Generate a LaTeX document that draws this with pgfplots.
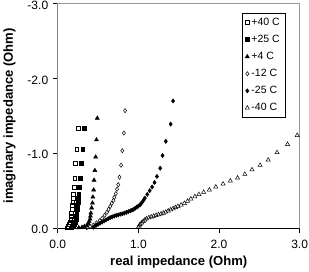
\documentclass[border=0pt]{standalone}
\usepackage{pgfplots}
\pgfplotsset{compat=1.18}
\usepackage{fontspec}
\setmainfont{Liberation Sans}
\begin{document}
\begin{tikzpicture}
\begin{axis}[
  scale only axis, width=241pt, height=223.5pt,
  xmin=0, xmax=3, ymin=-3, ymax=0, y dir=reverse,
  xtick={0,1,2,3}, xticklabels={0.0,1.0,2.0,3.0},
  ytick={-3,-2,-1,0}, yticklabels={-3.0,-2.0,-1.0,0.0},
  tick align=outside, major tick length=5pt,
  xtick pos=left, ytick pos=left,
  every tick/.style={black, line width=0.6pt},
  axis line style={draw=gray!80, line width=0.6pt},
  tick label style={font=\fontsize{12}{14}\selectfont},
  xticklabel style={yshift=-3pt, inner xsep=1pt},
  yticklabel style={yshift=-1.5pt, inner ysep=1pt, xshift=-1pt},
  xlabel={\bfseries real impedance (Ohm)},
  ylabel={\bfseries imaginary impedance (Ohm)},
  label style={font=\fontsize{13}{15}\selectfont},
  xlabel style={yshift=-1pt},
  ylabel style={yshift=5pt},
  legend style={at={(axis description cs:0.94,0.96)}, anchor=north east, draw=black, line width=0.6pt,
    font=\fontsize{10.5}{12}\selectfont, row sep=4.2pt, inner sep=3pt, cells={anchor=west}},
  legend cell align=left,
  every axis plot/.append style={only marks, black, line width=0.5pt},
]
\addplot[mark=square, mark size=1.9pt] coordinates {
(0.12,-0.005)(0.13,-0.02)(0.14,-0.05)(0.15,-0.08)(0.16,-0.12)(0.165,-0.16)(0.17,-0.20)(0.175,-0.25)(0.18,-0.30)(0.185,-0.35)(0.19,-0.40)(0.195,-0.455)(0.20,-0.55)(0.21,-0.67)(0.22,-0.87)(0.235,-1.05)(0.25,-1.33)};
\addlegendentry{+40 C}
\addplot[mark=square*, mark size=1.9pt] coordinates {
(0.17,-0.005)(0.19,-0.02)(0.21,-0.05)(0.22,-0.08)(0.225,-0.12)(0.23,-0.16)(0.235,-0.20)(0.24,-0.25)(0.245,-0.30)(0.25,-0.35)(0.255,-0.40)(0.26,-0.455)(0.27,-0.55)(0.28,-0.67)(0.29,-0.87)(0.31,-1.05)(0.33,-1.33)};
\addlegendentry{+25 C}
\addplot[mark=triangle*, mark size=2.3pt] coordinates {
(0.26,-0.005)(0.30,-0.01)(0.33,-0.02)(0.36,-0.035)(0.38,-0.06)(0.39,-0.09)(0.40,-0.12)(0.405,-0.16)(0.41,-0.20)(0.42,-0.27)(0.43,-0.335)(0.435,-0.415)(0.445,-0.51)(0.45,-0.64)(0.46,-0.77)(0.47,-0.95)(0.48,-1.18)(0.49,-1.47)};
\addlegendentry{+4 C}
\addplot[mark=diamond, mark size=2.1pt] coordinates {
(0.36,-0.005)(0.40,-0.02)(0.44,-0.04)(0.48,-0.07)(0.52,-0.10)(0.55,-0.13)(0.58,-0.17)(0.61,-0.21)(0.63,-0.25)(0.65,-0.29)(0.67,-0.33)(0.69,-0.37)(0.70,-0.41)(0.72,-0.46)(0.735,-0.52)(0.75,-0.58)(0.765,-0.68)(0.785,-0.84)(0.80,-1.035)(0.82,-1.27)(0.835,-1.57)};
\addlegendentry{-12 C}
\addplot[mark=diamond*, mark size=2.1pt] coordinates {
(0.44,-0.01)(0.46,-0.03)(0.48,-0.04)(0.50,-0.05)(0.525,-0.065)(0.55,-0.08)(0.575,-0.095)(0.60,-0.11)(0.625,-0.125)(0.65,-0.14)(0.675,-0.15)(0.70,-0.16)(0.725,-0.17)(0.75,-0.175)(0.775,-0.185)(0.80,-0.19)(0.825,-0.20)(0.85,-0.21)(0.875,-0.22)(0.90,-0.23)(0.92,-0.24)(0.94,-0.25)(0.96,-0.265)(0.98,-0.28)(1.00,-0.295)(1.02,-0.31)(1.035,-0.33)(1.05,-0.35)(1.065,-0.375)(1.08,-0.40)(1.11,-0.45)(1.14,-0.50)(1.17,-0.55)(1.20,-0.61)(1.23,-0.69)(1.27,-0.80)(1.30,-0.97)(1.34,-1.16)(1.40,-1.39)(1.43,-1.70)};
\addlegendentry{-25 C}
\addplot[mark=triangle, mark size=2.4pt] coordinates {
(1.00,-0.01)(1.01,-0.03)(1.02,-0.05)(1.04,-0.07)(1.06,-0.09)(1.08,-0.11)(1.10,-0.125)(1.13,-0.14)(1.16,-0.15)(1.19,-0.16)(1.22,-0.17)(1.25,-0.18)(1.28,-0.19)(1.31,-0.20)(1.34,-0.215)(1.37,-0.23)(1.40,-0.245)(1.43,-0.26)(1.46,-0.275)(1.49,-0.29)(1.53,-0.31)(1.57,-0.33)(1.61,-0.36)(1.65,-0.39)(1.70,-0.42)(1.75,-0.45)(1.81,-0.48)(1.88,-0.51)(1.96,-0.55)(2.05,-0.59)(2.14,-0.63)(2.23,-0.67)(2.32,-0.72)(2.41,-0.78)(2.51,-0.84)(2.61,-0.91)(2.72,-1.01)(2.85,-1.12)(2.97,-1.24)};
\addlegendentry{-40 C}
\draw[black, line width=0.6pt] (axis cs:0,0) -- (axis cs:3,0);
\draw[black, line width=0.6pt] (axis cs:0,0) -- (axis cs:0,-3);
\end{axis}
\end{tikzpicture}
\end{document}
